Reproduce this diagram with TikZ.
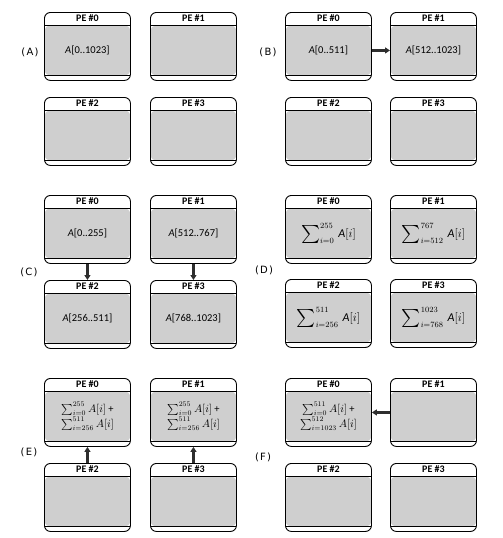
\documentclass[tikz,border=0pt]{standalone}
\usepackage{fontspec}
\usepackage{amsmath}
\setmainfont{Carlito}
\newfontfamily\lblfont[LetterSpace=12]{DejaVu Sans}
\usetikzlibrary{arrows.meta}
\definecolor{bodygray}{gray}{0.81}
\definecolor{arrgray}{gray}{0.18}
\tikzset{
  pe/.style={draw, line width=0.9pt, rounded corners=6pt, fill=white,
    minimum width=86pt, minimum height=68pt, inner sep=0pt, anchor=north west,
    path picture={
      \fill[bodygray] ([yshift=-13pt]path picture bounding box.north west)
        rectangle ([yshift=5pt]path picture bounding box.south east);
      \draw[line width=1pt] ([yshift=-13pt]path picture bounding box.north west)
        -- ([yshift=-13pt]path picture bounding box.north east);
      \draw[line width=1.7pt] ([yshift=5pt]path picture bounding box.south west)
        -- ([yshift=5pt]path picture bounding box.south east);
      \draw[line width=1.7pt] ([yshift=-13pt]path picture bounding box.north west)
        -- ([yshift=5pt]path picture bounding box.south west);
    }},
  hdr/.style={font=\fontsize{10}{11}\selectfont\bfseries, inner sep=0pt},
  body/.style={font=\fontsize{10.5}{12}\selectfont, inner sep=0pt, align=center},
  lbl/.style={font=\lblfont\fontsize{10}{11}\selectfont, inner sep=0pt},
  arr/.style={line width=2.1pt, draw=arrgray, -{Triangle[length=5pt,width=6pt]}}
}
\newcommand\PEbox[5]{%
  \node[pe] (#1) at (#2,#3) {};
  \node[hdr] (#1-h) at ([yshift=-6.5pt]#1.north) {#4};
  \node[body] (#1-c) at ([yshift=-4pt]#1.center) {#5};
}
\newcommand\bigS{\mathop{\vcenter{\hbox{\scalebox{1.5}{$\sum$}}}}\nolimits}
\newcommand\Dsum[2]{$\bigS_{#1}^{#2}\,\mathit{A}[i]$}
\begin{document}
\begin{tikzpicture}[x=1pt,y=-1pt]
\useasboundingbox (0,0) rectangle (503,538);
% (A)
\node[lbl] (la) at (30,52) {(A)};
\PEbox{a0}{44}{12}{PE \#0}{\textit{A}[0..1023]}
\PEbox{a1}{150}{12}{PE \#1}{}
\PEbox{a2}{44}{97}{PE \#2}{}
\PEbox{a3}{150}{97}{PE \#3}{}
% (B)
\node[lbl] (lb) at (268,52) {(B)};
\PEbox{b0}{285}{12}{PE \#0}{\textit{A}[0..511]}
\PEbox{b1}{390}{12}{PE \#1}{\textit{A}[512..1023]}
\PEbox{b2}{285}{97}{PE \#2}{}
\PEbox{b3}{390}{97}{PE \#3}{}
\draw[arr] ([yshift=-4pt]b0.east) -- ([yshift=-4pt]b1.west);
% (C)
\node[lbl] (lc) at (29,272) {(C)};
\PEbox{c0}{44}{195}{PE \#0}{\textit{A}[0..255]}
\PEbox{c1}{150}{195}{PE \#1}{\textit{A}[512..767]}
\PEbox{c2}{44}{280}{PE \#2}{\textit{A}[256..511]}
\PEbox{c3}{150}{280}{PE \#3}{\textit{A}[768..1023]}
\draw[arr] (c0.south) -- (c2.north);
\draw[arr] (c1.south) -- (c3.north);
% (D)
\node[lbl] (ld) at (264,270) {(D)};
\PEbox{d0}{285}{195}{PE \#0}{\fontsize{12}{14}\selectfont\Dsum{i=0}{255}}
\PEbox{d1}{390}{195}{PE \#1}{\fontsize{12}{14}\selectfont\Dsum{i=512}{767}}
\PEbox{d2}{285}{279}{PE \#2}{\fontsize{12}{14}\selectfont\Dsum{i=256}{511}}
\PEbox{d3}{390}{279}{PE \#3}{\fontsize{12}{14}\selectfont\Dsum{i=768}{1023}}
% (E)
\node[lbl] (le) at (29,452) {(E)};
\PEbox{e0}{44}{378}{PE \#0}{$\sum_{i=0}^{255}A[i]$ +\\[1pt] $\sum_{i=256}^{511}A[i]$}
\PEbox{e1}{150}{378}{PE \#1}{$\sum_{i=0}^{255}A[i]$ +\\[1pt] $\sum_{i=256}^{511}A[i]$}
\PEbox{e2}{44}{463}{PE \#2}{}
\PEbox{e3}{150}{463}{PE \#3}{}
\draw[arr] (e2.north) -- (e0.south);
\draw[arr] (e3.north) -- (e1.south);
% (F)
\node[lbl] (lf) at (263,457) {(F)};
\PEbox{f0}{285}{378}{PE \#0}{$\sum_{i=0}^{511}A[i]$ +\\[1pt] $\sum_{i=1023}^{512}A[i]$}
\PEbox{f1}{390}{378}{PE \#1}{}
\PEbox{f2}{285}{463}{PE \#2}{}
\PEbox{f3}{390}{463}{PE \#3}{}
\draw[arr] (f1.west) -- (f0.east);
\end{tikzpicture}
\end{document}
